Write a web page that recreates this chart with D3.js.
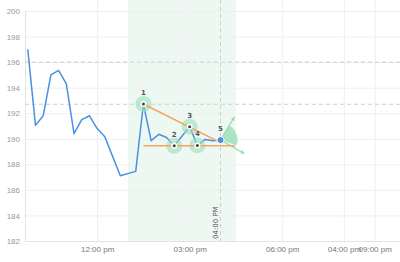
<!DOCTYPE html>
<html>
<head>
<meta charset="utf-8">
<script src="https://d3js.org/d3.v7.min.js"></script>
<style>
  body { margin: 0; background: #fff; }
  svg { display: block; font-family: "DejaVu Sans", sans-serif; }
</style>
</head>
<body>
<div id="chart"></div>
<script>
// price series, time in hours of the day
var times = [9.75, 10, 10.25, 10.5, 10.75, 11, 11.25, 11.5, 11.75, 12, 12.25, 12.75, 13.25,
             13.5, 13.75, 14, 14.25, 14.5, 15, 15.25, 15.5, 15.75, 16];
var prices = [197.0, 191.05, 191.8, 195.0, 195.35, 194.3, 190.4, 191.5, 191.8, 190.8, 190.15, 187.1, 187.45,
              192.72, 189.85, 190.35, 190.1, 189.45, 190.95, 189.48, 189.95, 189.85, 189.9];

// pattern pivots (index into series)
var pivotIdx = [13, 17, 18, 19, 22];
var pivotLabels = ["1", "2", "3", "4", "5"];

// trend lines of the pattern
var upperLine = [[13.5, 192.72], [15.92, 189.8]];
var lowerLine = [[13.5, 189.45], [16.47, 189.45]];

// breakout arrows from pivot 5 (end points)
var arrowUp = [16.45, 191.7];
var arrowDown = [16.77, 188.85];

// band + marker
var bandRange = [13.0, 16.5];
var markerTime = 16.0;
var markerLabel = "04:00 PM";
var levelLines = [196, 192.7];

var yTicks = [182, 184, 186, 188, 190, 192, 194, 196, 198, 200];
var xTicks = [12, 15, 18, 20, 21];
var xTickLabels = ["12:00 pm", "03:00 pm", "06:00 pm", "04:00 pm", "09:00 pm"];

var width = 400, height = 262;
var mLeft = 25, mRight = 400, mTop = 0, mBottom = 241;

var svg = d3.select("#chart").append("svg")
  .attr("width", width).attr("height", height);

var x = d3.scaleLinear().domain([9.66, 21.82]).range([mLeft, mRight]);
var y = d3.scaleLinear().domain([182, 200]).range([mBottom, 11]);

// band
svg.append("rect")
  .attr("x", x(bandRange[0])).attr("y", mTop)
  .attr("width", x(bandRange[1]) - x(bandRange[0]))
  .attr("height", mBottom - mTop)
  .attr("fill", "#eef8f3");

// grid
svg.append("g")
  .attr("transform", "translate(" + mLeft + ",0)")
  .call(d3.axisLeft(y).tickValues(yTicks).tickSize(-(mRight - mLeft)).tickFormat(""))
  .call(function(g) {
    g.select(".domain").remove();
    g.selectAll("line").attr("stroke", "#efefef");
  });

svg.append("g")
  .attr("transform", "translate(0," + mBottom + ")")
  .call(d3.axisBottom(x).tickValues(xTicks).tickSize(-(mBottom - mTop)).tickFormat(""))
  .call(function(g) {
    g.select(".domain").remove();
    g.selectAll("line").attr("stroke", "#efefef");
  });

// axes
var yAxis = svg.append("g")
  .attr("transform", "translate(" + mLeft + ",0)")
  .call(d3.axisLeft(y).tickValues(yTicks).tickSize(0).tickPadding(5));
yAxis.select(".domain").attr("stroke", "#e3e3e3");
yAxis.selectAll("text").attr("fill", "#999").attr("font-size", 8);

var xAxis = svg.append("g")
  .attr("transform", "translate(0," + mBottom + ")")
  .call(d3.axisBottom(x).tickValues(xTicks).tickSize(0).tickPadding(5)
    .tickFormat(function(d, i) { return xTickLabels[i]; }));
xAxis.select(".domain").attr("stroke", "#e3e3e3");
xAxis.selectAll("text").attr("fill", "#777").attr("font-size", 8);

// level lines
svg.selectAll(".level").data(levelLines).enter().append("line")
  .attr("x1", mLeft).attr("x2", mRight)
  .attr("y1", function(d) { return y(d); })
  .attr("y2", function(d) { return y(d); })
  .attr("stroke", "#cfcfcf").attr("stroke-dasharray", "4,3");

// vertical marker
svg.append("line")
  .attr("x1", x(markerTime)).attr("x2", x(markerTime))
  .attr("y1", mTop).attr("y2", mBottom)
  .attr("stroke", "#cfcfcf").attr("stroke-dasharray", "4,3");
svg.append("text")
  .attr("transform", "translate(" + (x(markerTime) - 3) + "," + (mBottom - 2) + ") rotate(-90)")
  .attr("font-size", 7).attr("fill", "#555")
  .text(markerLabel);

// price line
var line = d3.line()
  .x(function(d, i) { return x(times[i]); })
  .y(function(d) { return y(d); });

svg.append("path")
  .datum(prices)
  .attr("fill", "none")
  .attr("stroke", "#4a90e2")
  .attr("stroke-width", 1.5)
  .attr("stroke-linejoin", "round")
  .attr("d", line);

// halos
svg.selectAll(".halo").data(pivotIdx.slice(0, 4)).enter().append("circle")
  .attr("cx", function(d) { return x(times[d]); })
  .attr("cy", function(d) { return y(prices[d]); })
  .attr("r", 8)
  .attr("fill", "#9fe0bb").attr("fill-opacity", 0.6);

// wedge + arrows at pivot 5
var p5 = [x(times[pivotIdx[4]]), y(prices[pivotIdx[4]])];
var arc = d3.arc().innerRadius(0).outerRadius(17)
  .startAngle(Math.PI * 0.17).endAngle(Math.PI * 0.6);
svg.append("path")
  .attr("transform", "translate(" + p5[0] + "," + p5[1] + ")")
  .attr("d", arc())
  .attr("fill", "#8ddcb0").attr("fill-opacity", 0.7);

function arrow(to) {
  var x2 = x(to[0]), y2 = y(to[1]);
  var ang = Math.atan2(y2 - p5[1], x2 - p5[0]);
  svg.append("line")
    .attr("x1", p5[0]).attr("y1", p5[1]).attr("x2", x2).attr("y2", y2)
    .attr("stroke", "#8ddcb0").attr("stroke-width", 1.2);
  var s = 4;
  var pts = [
    [x2, y2],
    [x2 - s * Math.cos(ang - 0.5), y2 - s * Math.sin(ang - 0.5)],
    [x2 - s * Math.cos(ang + 0.5), y2 - s * Math.sin(ang + 0.5)]
  ];
  svg.append("path").attr("d", "M" + pts.join("L") + "Z").attr("fill", "#8ddcb0");
}
arrow(arrowUp);
arrow(arrowDown);

// trend lines
svg.selectAll(".trend").data([upperLine, lowerLine]).enter().append("line")
  .attr("x1", function(d) { return x(d[0][0]); })
  .attr("y1", function(d) { return y(d[0][1]); })
  .attr("x2", function(d) { return x(d[1][0]); })
  .attr("y2", function(d) { return y(d[1][1]); })
  .attr("stroke", "#f5a55c").attr("stroke-width", 1.5);

// pivot points
svg.selectAll(".pv").data(pivotIdx.slice(0, 4)).enter().append("circle")
  .attr("cx", function(d) { return x(times[d]); })
  .attr("cy", function(d) { return y(prices[d]); })
  .attr("r", 3).attr("fill", "#fff");
svg.selectAll(".pvc").data(pivotIdx.slice(0, 4)).enter().append("circle")
  .attr("cx", function(d) { return x(times[d]); })
  .attr("cy", function(d) { return y(prices[d]); })
  .attr("r", 1.5).attr("fill", "#444");
svg.append("circle")
  .attr("cx", p5[0]).attr("cy", p5[1]).attr("r", 3.5)
  .attr("fill", "#4a90e2").attr("stroke", "#fff").attr("stroke-width", 1);

svg.selectAll(".pl").data(pivotIdx).enter().append("text")
  .attr("x", function(d) { return x(times[d]); })
  .attr("y", function(d) { return y(prices[d]) - 9; })
  .attr("text-anchor", "middle")
  .attr("font-size", 7).attr("font-weight", "bold").attr("fill", "#555")
  .text(function(d, i) { return pivotLabels[i]; });
</script>
</body>
</html>
